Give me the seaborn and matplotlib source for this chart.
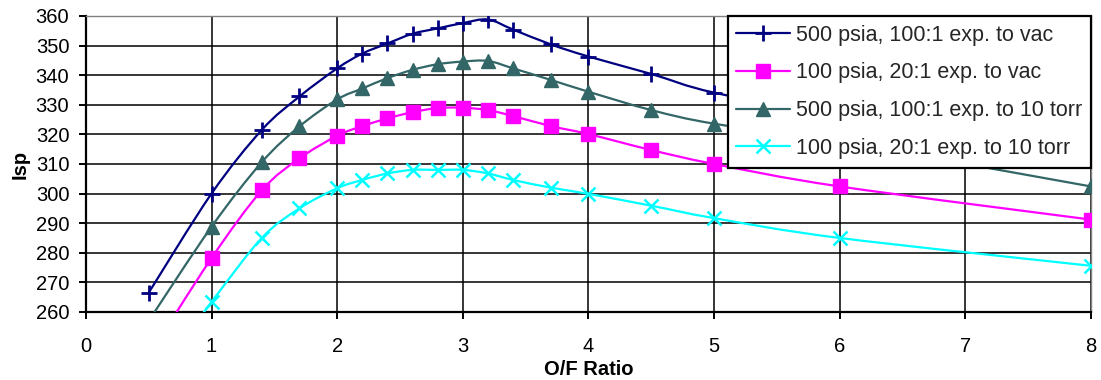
import matplotlib
matplotlib.use("Agg")
import matplotlib.pyplot as plt
from matplotlib.path import Path
from matplotlib.patches import PathPatch
from matplotlib.lines import Line2D
import seaborn as sns
import pandas as pd

# O/F ratio sample points shared by all four cases
of_ratio = [0.5, 1.0, 1.4, 1.7, 2.0, 2.2, 2.4, 2.6, 2.8, 3.0, 3.2, 3.4, 3.7, 4.0, 4.5, 5.0, 6.0, 8.0]

# Specific impulse (s) for each chamber pressure / expansion case
isp_500_vac = [266.5, 300.0, 321.5, 332.8, 342.3, 347.3, 350.7, 354.0, 355.8, 357.6, 358.8, 355.4,
               350.4, 346.3, 340.4, 334.1, 326.5, 315.0]
isp_100_vac = [245.0, 278.2, 301.1, 311.9, 319.5, 322.8, 325.4, 327.5, 328.9, 329.0, 328.2, 326.2,
               322.8, 320.1, 314.7, 310.0, 302.4, 291.2]
isp_500_10torr = [257.0, 288.8, 310.6, 322.7, 331.8, 335.5, 339.0, 341.8, 343.7, 344.6, 344.8, 342.3,
                  338.4, 334.4, 328.2, 323.6, 317.5, 302.4]
isp_100_10torr = [235.0, 263.4, 285.0, 295.0, 301.8, 304.6, 306.8, 308.0, 308.0, 308.0, 306.8, 304.6,
                  302.0, 299.9, 295.9, 291.7, 285.0, 275.6]

labels = [
    "500 psia, 100:1 exp. to vac",
    "100 psia, 20:1 exp. to vac",
    "500 psia, 100:1 exp. to 10 torr",
    "100 psia, 20:1 exp. to 10 torr",
]
series = [isp_500_vac, isp_100_vac, isp_500_10torr, isp_100_10torr]

colors = ["#000080", "#FF00FF", "#336666", "#00FFFF"]
markers = ["+", "s", "^", "x"]
msizes = [11, 9.5, 9.5, 10]
medges = [2.0, 1.0, 1.0, 1.8]
LINE_W = 1.6


def smooth_path(xs, ys):
    """Cubic Bezier path through the points (Catmull-Rom style smoothing)."""
    pts = list(zip(xs, ys))
    n = len(pts)
    verts = [pts[0]]
    codes = [Path.MOVETO]
    for i in range(n - 1):
        p0 = pts[i - 1] if i > 0 else pts[i]
        p1 = pts[i]
        p2 = pts[i + 1]
        p3 = pts[i + 2] if i + 2 < n else pts[i + 1]
        c1 = (p1[0] + (p2[0] - p0[0]) / 6.0, p1[1] + (p2[1] - p0[1]) / 6.0)
        c2 = (p2[0] - (p3[0] - p1[0]) / 6.0, p2[1] - (p3[1] - p1[1]) / 6.0)
        verts += [c1, c2, p2]
        codes += [Path.CURVE4] * 3
    return Path(verts, codes)


sns.set_theme(style="white")
plt.rcParams["font.family"] = ["Liberation Sans", "DejaVu Sans"]

fig, ax = plt.subplots(figsize=(11.01, 3.80), dpi=100)
fig.subplots_adjust(left=0.078, right=0.991, top=0.958, bottom=0.179)

handles = []
for lab, vals, col, mk, ms, mew in zip(labels, series, colors, markers, msizes, medges):
    df = pd.DataFrame({"of": of_ratio, "isp": vals})
    # markers at the computed points
    sns.lineplot(data=df, x="of", y="isp", ax=ax, color=col, marker=mk, linestyle="",
                 markersize=ms, markeredgewidth=mew, markeredgecolor=col,
                 legend=False, zorder=3)
    # smoothed connecting curve
    ax.add_patch(PathPatch(smooth_path(of_ratio, vals), facecolor="none",
                           edgecolor=col, linewidth=LINE_W, zorder=2.9))
    handles.append(Line2D([], [], color=col, marker=mk, markersize=ms,
                          markeredgewidth=mew, markeredgecolor=col,
                          linewidth=LINE_W, label=lab))

ax.set_xlim(0, 8)
ax.set_ylim(260, 360)
ax.set_xticks(range(0, 9))
ax.set_yticks(range(260, 361, 10))

ax.set_axisbelow(True)
ax.grid(True, color="black", linewidth=1.1)

for side in ("left", "bottom"):
    ax.spines[side].set_color("black")
    ax.spines[side].set_linewidth(1.6)
for side in ("top", "right"):
    ax.spines[side].set_color("#808080")
    ax.spines[side].set_linewidth(1.0)

ax.tick_params(axis="both", which="major", direction="out", length=5, width=1.4,
               color="black", labelsize=14.5, labelcolor="black",
               left=True, bottom=True)
ax.tick_params(axis="x", pad=13)
ax.tick_params(axis="y", pad=7)

ax.set_xlabel("O/F Ratio", fontsize=14.5, fontweight="bold", color="black", labelpad=3)
ax.set_ylabel("Isp", fontsize=14.5, fontweight="bold", color="black", labelpad=4)

leg = ax.legend(handles=handles, loc="upper right", bbox_to_anchor=(1.0, 1.0),
                borderaxespad=0, fontsize=15.5, frameon=True, fancybox=False,
                framealpha=1, edgecolor="black", handlelength=2.5,
                handletextpad=0.28, labelspacing=0.78, borderpad=0.4)
leg.get_frame().set_linewidth(1.6)
leg.set_zorder(5)

fig.savefig("out.png", dpi=100)
